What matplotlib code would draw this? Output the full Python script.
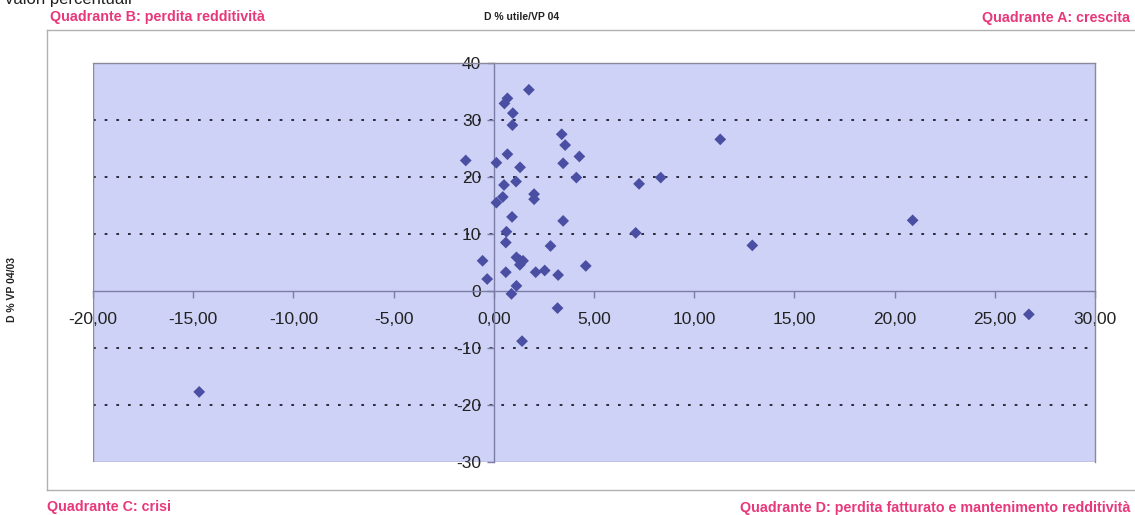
import matplotlib
matplotlib.use("Agg")
import matplotlib.pyplot as plt
from matplotlib.lines import Line2D
from matplotlib.ticker import FuncFormatter

# Variazione % utile/VP 04 (asse x) e variazione % VP 04/03 (asse y)
utile_vp = [
    -1.4, 0.13, 1.75, 0.68, 0.53, 0.95, 0.93, 0.68, 1.31, 1.11,
    0.51, 0.45, 0.13, 2.01, 2.01, 3.39, 3.56, 4.27, 3.46, 4.12,
    0.91, 3.46, 0.63, 0.60, 2.83, -0.56, 1.13, 1.30, 1.46, 1.30,
    4.59, 0.60, 2.09, 2.54, 3.21, -0.33, 1.13, 0.88, 3.18, 1.41,
    11.3, 7.25, 8.33, 7.08, 12.9, 20.9, 26.7, -14.7,
]
var_vp = [
    22.9, 22.5, 35.3, 33.8, 32.9, 31.2, 29.1, 24.0, 21.7, 19.2,
    18.6, 16.5, 15.5, 17.0, 16.1, 27.5, 25.6, 23.6, 22.4, 19.9,
    13.0, 12.3, 10.4, 8.5, 7.9, 5.3, 5.9, 5.4, 5.3, 4.6,
    4.4, 3.3, 3.3, 3.6, 2.8, 2.1, 0.9, -0.5, -3.0, -8.8,
    26.6, 18.8, 19.9, 10.2, 8.0, 12.4, -4.1, -17.7,
]

x_ticks = [-20, -15, -10, -5, 0, 5, 10, 15, 20, 25, 30]
y_ticks = [-30, -20, -10, 0, 10, 20, 30, 40]
grid_levels = [-20, -10, 10, 20, 30]

PINK = "#E8387A"
PLOT_BG = "#CED2F6"
MARKER = "#4A4FA3"
AXIS = "#7C7CA6"
NARROW = ["Liberation Sans Narrow", "Liberation Sans", "DejaVu Sans"]
SANS = ["Liberation Sans", "DejaVu Sans"]

fig = plt.figure(figsize=(11.35, 5.15), dpi=100, facecolor="white")
ax = fig.add_axes([93 / 1135, 53 / 515, 1002 / 1135, 399 / 515])
ax.set_facecolor(PLOT_BG)
ax.set_xlim(-20, 30)
ax.set_ylim(-30, 40)

# bordo dell'area del tracciato
for s in ("top", "right"):
    ax.spines[s].set_color("#8a8a9a")
    ax.spines[s].set_linewidth(1.0)
ax.spines["left"].set_position(("data", 0))
ax.spines["bottom"].set_position(("data", 0))
for s in ("left", "bottom"):
    ax.spines[s].set_color(AXIS)
    ax.spines[s].set_linewidth(1.0)
ax.add_line(Line2D([0, 0], [0, 1], transform=ax.transAxes, color="#8a8a9a", lw=1.0))
ax.add_line(Line2D([0, 1], [0, 0], transform=ax.transAxes, color="#8a8a9a", lw=1.0))

for g in grid_levels:
    ax.axhline(g, color="#2b2b3a", lw=1.4, linestyle=(0, (1.4, 4.6)), zorder=1)

ax.scatter(utile_vp, var_vp, marker="D", s=36, color=MARKER, edgecolors="none", zorder=3)

ax.set_xticks(x_ticks)
ax.set_yticks(y_ticks)
ax.xaxis.set_major_formatter(FuncFormatter(lambda v, p: f"{v:.2f}".replace(".", ",")))
ax.yaxis.set_major_formatter(FuncFormatter(lambda v, p: f"{v:.0f}"))
ax.tick_params(axis="x", direction="out", length=5, width=1, color=AXIS, pad=10,
               labelsize=12.5, labelcolor="#222222")
ax.tick_params(axis="y", direction="out", length=5, width=1, color=AXIS, pad=4,
               labelsize=12.5, labelcolor="#222222")
for lab in ax.get_xticklabels() + ax.get_yticklabels():
    lab.set_family(SANS)

# cornice dell'area del grafico
fig.add_artist(Line2D([47 / 1135, 47 / 1135], [1 - 30 / 515, 1 - 490 / 515],
                      color="#b0b0b0", lw=1.0))
fig.add_artist(Line2D([47 / 1135, 1.0], [1 - 30 / 515, 1 - 30 / 515],
                      color="#b0b0b0", lw=1.0))
fig.add_artist(Line2D([47 / 1135, 1.0], [1 - 490 / 515, 1 - 490 / 515],
                      color="#b0b0b0", lw=1.0))

fig.text(5 / 1135, 1 - 4 / 515, "valori percentuali", fontsize=12, family=SANS,
         color="#222222", va="baseline", ha="left")
fig.text(50 / 1135, 1 - 17 / 515, "Quadrante B: perdita redditività", fontsize=10.3,
         fontweight="bold", color=PINK, family=NARROW, va="center", ha="left")
fig.text(1130 / 1135, 1 - 18 / 515, "Quadrante A: crescita", fontsize=10.3,
         fontweight="bold", color=PINK, family=NARROW, va="center", ha="right")
fig.text(522 / 1135, 1 - 17 / 515, "D % utile/VP 04", fontsize=7.5,
         fontweight="bold", color="#222222", family=NARROW, va="center", ha="center")
fig.text(47 / 1135, 1 - 507 / 515, "Quadrante C: crisi", fontsize=10.3,
         fontweight="bold", color=PINK, family=NARROW, va="center", ha="left")
fig.text(1130 / 1135, 1 - 508 / 515,
         "Quadrante D: perdita fatturato e mantenimento redditività", fontsize=10.3,
         fontweight="bold", color=PINK, family=NARROW, va="center", ha="right")
fig.text(12 / 1135, 1 - 290 / 515, "D % VP 04/03", fontsize=7.5, rotation=90,
         fontweight="bold", color="#222222", family=NARROW, va="center", ha="center")

fig.savefig("out.png", dpi=100, facecolor="white")
